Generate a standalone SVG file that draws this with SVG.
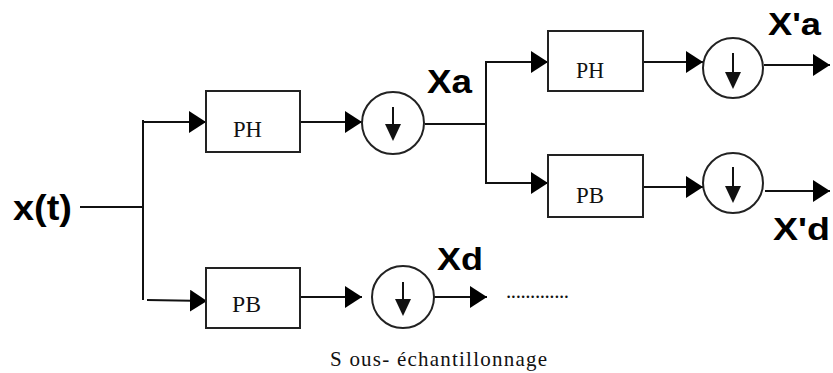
<svg xmlns="http://www.w3.org/2000/svg" width="833" height="373" viewBox="0 0 833 373">
<style>
  .box { fill: #fff; stroke: #222; stroke-width: 2; }
  .circ { fill: #fff; stroke: #222; stroke-width: 2; }
  .wire { fill: none; stroke: #111; stroke-width: 2; }
  .arr { fill: none; stroke: #111; stroke-width: 2; marker-end: url(#ah); }
  .flt { font-family: "Liberation Serif", "Times New Roman", serif; font-size: 24px; fill: #111; }
  .lbl { font-family: "Liberation Sans", Arial, sans-serif; font-weight: bold; fill: #000; }
  .cap { font-family: "Liberation Serif", "Times New Roman", serif; font-size: 21px; fill: #111; }
  .dn { fill: none; stroke: #111; stroke-width: 2; }
  .dnh { fill: #111; }
</style>
<defs>
  <marker id="ah" markerUnits="userSpaceOnUse" markerWidth="18" markerHeight="22" refX="17" refY="11" orient="auto">
    <path d="M0,0 L17,11 L0,22 z" fill="#000"/>
  </marker>
</defs>
<rect width="833" height="373" fill="#fff"/>

<g id="connectors">
  <line class="wire" x1="80" y1="207" x2="144" y2="207"/>
  <line class="wire" x1="143" y1="120" x2="143" y2="300"/>
  <line class="arr" x1="142" y1="122" x2="206" y2="122"/>
  <line class="arr" x1="147" y1="300" x2="207" y2="301"/>
  <line class="arr" x1="300" y1="122" x2="362" y2="122"/>
  <line class="wire" x1="425" y1="124" x2="487" y2="124"/>
  <line class="wire" x1="486" y1="61" x2="486" y2="184"/>
  <line class="arr" x1="485" y1="62" x2="548" y2="62"/>
  <line class="arr" x1="485" y1="183" x2="548" y2="183"/>
  <line class="arr" x1="643" y1="62" x2="703" y2="62"/>
  <line class="arr" x1="643" y1="187" x2="703" y2="187"/>
  <line class="arr" x1="764" y1="65" x2="830" y2="65"/>
  <line class="arr" x1="765" y1="191" x2="830" y2="191"/>
  <line class="arr" x1="300" y1="297" x2="362" y2="297"/>
  <line class="arr" x1="434" y1="297" x2="487" y2="297"/>
</g>

<g id="input-label">
  <text class="lbl" x="13" y="220" font-size="35" textLength="59" lengthAdjust="spacingAndGlyphs">x(t)</text>
</g>

<g id="ph1">
  <rect class="box" x="206" y="91" width="94" height="61"/>
  <text class="flt" x="233" y="137" textLength="29" lengthAdjust="spacingAndGlyphs">PH</text>
</g>
<g id="pb1">
  <rect class="box" x="206" y="268" width="94" height="60"/>
  <text class="flt" x="232" y="312" textLength="29" lengthAdjust="spacingAndGlyphs">PB</text>
</g>

<g id="ds1">
  <circle class="circ" cx="393" cy="123" r="31"/>
  <line class="dn" x1="393" y1="107" x2="393" y2="128"/>
  <path class="dnh" d="M385,124 L401,124 L393,141 z"/>
</g>
<g id="ds2">
  <circle class="circ" cx="403" cy="297" r="31"/>
  <line class="dn" x1="403" y1="282" x2="403" y2="303"/>
  <path class="dnh" d="M395,299 L411,299 L403,316 z"/>
</g>

<g id="label-xa">
  <text class="lbl" x="427" y="93" font-size="34" textLength="45" lengthAdjust="spacingAndGlyphs">Xa</text>
</g>
<g id="label-xd">
  <text class="lbl" x="437" y="270" font-size="32" textLength="46" lengthAdjust="spacingAndGlyphs">Xd</text>
</g>
<g id="dots">
  <text class="cap" x="506" y="298" font-size="19" textLength="63" lengthAdjust="spacing">.............</text>
</g>

<g id="ph2">
  <rect class="box" x="548" y="31" width="95" height="60"/>
  <text class="flt" x="576" y="78" textLength="28" lengthAdjust="spacingAndGlyphs">PH</text>
</g>
<g id="pb2">
  <rect class="box" x="548" y="155" width="95" height="62"/>
  <text class="flt" x="576" y="203" textLength="28" lengthAdjust="spacingAndGlyphs">PB</text>
</g>

<g id="ds3">
  <circle class="circ" cx="733" cy="68" r="30"/>
  <line class="dn" x1="733" y1="53" x2="733" y2="75"/>
  <path class="dnh" d="M725,72 L741,72 L733,89 z"/>
</g>
<g id="ds4">
  <circle class="circ" cx="733" cy="183" r="30"/>
  <line class="dn" x1="733" y1="167" x2="733" y2="189"/>
  <path class="dnh" d="M725,186 L741,186 L733,203 z"/>
</g>

<g id="label-xpa">
  <text class="lbl" x="768" y="35" font-size="31" textLength="53" lengthAdjust="spacingAndGlyphs">X'a</text>
</g>
<g id="label-xpd">
  <text class="lbl" x="773" y="240" font-size="32" textLength="57" lengthAdjust="spacingAndGlyphs">X'd</text>
</g>

<g id="caption">
  <text class="cap" x="330" y="366" textLength="217" lengthAdjust="spacing">S ous- échantillonnage</text>
</g>
</svg>
